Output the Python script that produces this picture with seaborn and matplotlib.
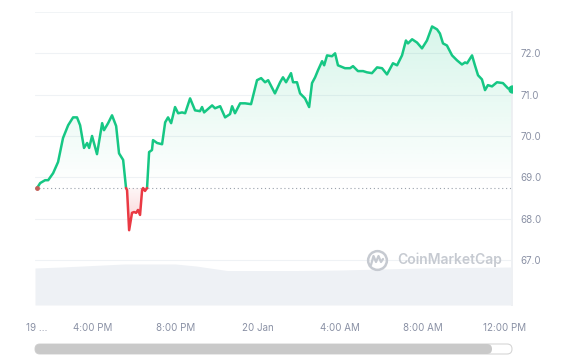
import numpy as np
import matplotlib
matplotlib.use('Agg')
import matplotlib.pyplot as plt
import seaborn as sns
from matplotlib.colors import to_rgb
from matplotlib.lines import Line2D
from matplotlib.path import Path
from matplotlib.patches import FancyBboxPatch
from matplotlib.transforms import IdentityTransform

# ==========================================
# DATA (hours counted from 19 Jan 00:00)
# ==========================================
hours = [13.28, 13.43, 13.67, 13.82, 14.06, 14.30, 14.54, 14.79, 15.03, 15.22,
         15.37, 15.56, 15.71, 15.81, 15.95, 16.19, 16.44, 16.53, 16.73, 16.92,
         17.12, 17.26, 17.46, 17.60, 17.65, 17.75, 17.89, 17.99, 18.09, 18.18,
         18.28, 18.38, 18.43, 18.52, 18.62, 18.72, 18.86, 18.91, 19.11, 19.35,
         19.50, 19.64, 19.79, 19.98, 20.13, 20.32, 20.47, 20.71, 20.95, 21.19,
         21.29, 21.39, 21.78, 21.92, 22.17, 22.41, 22.65, 22.75, 22.89, 23.14,
         23.38, 23.67, 23.96, 24.16, 24.35, 24.50, 24.83, 25.08, 25.22, 25.37,
         25.61, 25.71, 25.90, 26.05, 26.29, 26.49, 26.63, 26.78, 26.92, 27.12,
         27.22, 27.36, 27.60, 27.75, 27.89, 28.23, 28.48, 28.62, 28.86, 29.11,
         29.30, 29.54, 29.79, 30.03, 30.27, 30.56, 30.76, 31.00, 31.19, 31.29,
         31.49, 31.73, 31.97, 32.21, 32.46, 32.70, 32.84, 32.99, 33.18, 33.43,
         33.67, 33.91, 34.06, 34.16, 34.40, 34.54, 34.69, 34.88, 35.03, 35.17,
         35.37, 35.61, 35.90, 36.15, 36.34]
price = [68.74, 68.86, 68.93, 68.93, 69.10, 69.37, 69.95, 70.26, 70.45, 70.45,
         70.26, 69.71, 69.83, 69.71, 70.00, 69.56, 70.31, 70.14, 70.31, 70.50,
         70.24, 69.58, 69.42, 68.74, 68.69, 67.72, 68.14, 68.16, 68.14, 68.21,
         68.09, 68.69, 68.74, 68.67, 68.74, 69.61, 69.66, 69.90, 69.83, 69.80,
         70.33, 70.45, 70.31, 70.70, 70.55, 70.57, 70.55, 70.91, 70.62, 70.60,
         70.70, 70.57, 70.74, 70.67, 70.72, 70.45, 70.53, 70.72, 70.55, 70.79,
         70.79, 70.77, 71.35, 71.40, 71.30, 71.35, 71.03, 71.30, 71.42, 71.30,
         71.52, 71.30, 71.30, 71.03, 70.91, 70.70, 71.28, 71.42, 71.59, 71.81,
         71.71, 71.95, 71.93, 72.00, 71.71, 71.64, 71.64, 71.69, 71.57, 71.57,
         71.54, 71.52, 71.66, 71.64, 71.49, 71.76, 71.71, 71.95, 72.31, 72.24,
         72.34, 72.26, 72.12, 72.31, 72.65, 72.58, 72.48, 72.24, 72.19, 71.95,
         71.83, 71.73, 71.78, 71.76, 71.95, 71.71, 71.47, 71.37, 71.11, 71.23,
         71.20, 71.30, 71.28, 71.15, 71.13]
base_price = 68.74

vol_hours = [13.18, 14.5, 16.0, 17.5, 18.5, 20.0, 21.0, 22.5, 24.0, 26.0,
             28.0, 30.0, 32.0, 34.0, 36.34]
volume = [37, 38, 39.5, 41, 41, 41, 39, 34.5, 34.5, 34.5,
          35, 36, 37, 37.5, 38]

xtick_pos = [13.28, 16, 20, 24, 28, 32, 36]
xtick_labels = ['19 …', '4:00 PM', '8:00 PM', '20 Jan', '4:00 AM', '8:00 AM', '12:00 PM']
ytick_pos = [67, 68, 69, 70, 71, 72]

GREEN = '#16c784'
RED = '#ea3943'
TXT = '#8a91a5'

sns.set_theme(style='white')
plt.rcParams['font.family'] = ['Inter', 'DejaVu Sans']

fig = plt.figure(figsize=(5.7, 3.64), dpi=100)
ax = fig.add_axes([35 / 570, 59 / 364, 477 / 570, 293 / 364])
ax2 = ax.twinx()

# volume (bottom layer)
ax.fill_between(vol_hours, volume, color='#eef1f5', lw=0)
ax.set_ylim(0, 293)
ax.set_yticks([])

# insert crossing points with the base price
x = np.array(hours)
y = np.array(price)
xs, ys = [x[0]], [y[0]]
for i in range(1, len(x)):
    d0, d1 = y[i - 1] - base_price, y[i] - base_price
    if d0 * d1 < 0:
        t = d0 / (d0 - d1)
        xs.append(x[i - 1] + t * (x[i] - x[i - 1]))
        ys.append(base_price)
    xs.append(x[i])
    ys.append(y[i])
xs, ys = np.array(xs), np.array(ys)


def runs(mask):
    idx = np.flatnonzero(mask)
    groups = np.split(idx, np.where(np.diff(idx) != 1)[0] + 1)
    return [g for g in groups if len(g) > 1]


# gradient fills
def grad_fill(where, color, a_top, a_bot, y0, y1):
    poly = ax2.fill_between(xs, ys, base_price, where=where, interpolate=True,
                            color='none', lw=0)
    clip = Path.make_compound_path(*poly.get_paths())
    rgba = np.zeros((256, 1, 4))
    rgba[..., :3] = to_rgb(color)
    rgba[..., 3] = np.linspace(a_top, a_bot, 256).reshape(-1, 1)
    im = ax2.imshow(rgba, extent=[xs.min(), xs.max(), y0, y1], origin='upper',
                    aspect='auto', zorder=1, interpolation='bilinear')
    im.set_clip_path(clip, transform=ax2.transData)


grad_fill(ys >= base_price, GREEN, 0.17, 0.0, base_price, ys.max())
grad_fill(ys <= base_price, RED, 0.04, 0.25, ys.min(), base_price)

# price line
for g in runs(ys >= base_price):
    sns.lineplot(x=xs[g], y=ys[g], ax=ax2, color=GREEN, lw=1.8, zorder=3)
for g in runs(ys <= base_price):
    sns.lineplot(x=xs[g], y=ys[g], ax=ax2, color=RED, lw=1.8, zorder=3)

ax2.axhline(base_price, color='#9aa1ab', lw=0.8, ls=(0, (1, 2.5)), zorder=2)
ax2.plot(xs[-1], ys[-1], 'o', color=GREEN, ms=5, zorder=4)
ax2.plot(xs[0], ys[0], 'o', color='#c2615a', ms=2.5, zorder=4)

# axes cosmetics
ax2.set_ylim(65.91, 73.0)
ax2.set_yticks(ytick_pos, [f'{v:.1f}' for v in ytick_pos])
ax2.grid(axis='y', color='#eff2f5', lw=0.8)
ax2.axhline(73.0, color='#eff2f5', lw=1.2)
ax2.tick_params(axis='y', length=0, pad=6, labelsize=7, labelcolor=TXT)
ax2.set_ylabel('')
ax2.set_xlabel('')
ax.set_xlim(13.18, 36.34)
ax.set_xticks(xtick_pos, xtick_labels)
ax.tick_params(axis='x', length=0, pad=13, labelsize=7, labelcolor=TXT)
for a in (ax, ax2):
    for s in ('left', 'top', 'bottom'):
        a.spines[s].set_visible(False)
    a.spines['right'].set_color('#eef0f3')

# watermark
wm = '#c6cad1'
fig.text(397 / 570, 1 - 260 / 364, 'CoinMarketCap', fontsize=10,
         fontweight='semibold', color=wm, va='center', ha='left')
fig.add_artist(Line2D([377 / 570], [1 - 260 / 364], marker='o', markersize=13.5,
                      mfc='none', mec=wm, mew=1.8, transform=fig.transFigure))
mx = np.array([371, 373.5, 376, 378.5, 381, 383]) / 570
my = 1 - np.array([265, 256, 262, 256, 262, 259]) / 364
fig.add_artist(Line2D(mx, my, color=wm, lw=1.6, transform=fig.transFigure,
                      solid_joinstyle='round'))

# scrollbar
fig.add_artist(FancyBboxPatch((35, 364 - 354), 477, 10,
                              boxstyle='round,pad=0,rounding_size=5',
                              fc='white', ec='#d6d6d6', lw=0.8,
                              transform=IdentityTransform()))
fig.add_artist(FancyBboxPatch((35, 364 - 354), 457, 10,
                              boxstyle='round,pad=0,rounding_size=5',
                              fc='#c9c9c9', ec='none',
                              transform=IdentityTransform()))

plt.savefig('out.png', dpi=100)
